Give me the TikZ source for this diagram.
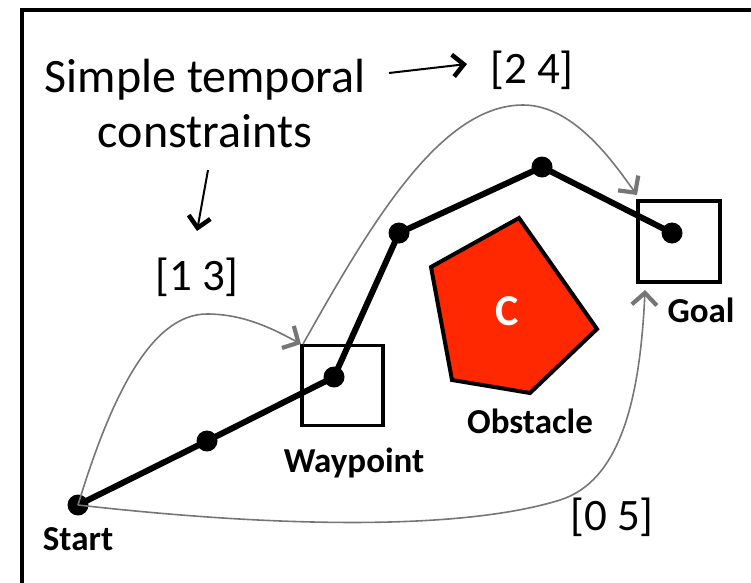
\documentclass[tikz,border=0pt]{standalone}
\usepackage{fontspec}
\setmainfont{Carlito}
\usetikzlibrary{arrows.meta}
\definecolor{obstred}{RGB}{255,40,0}
\definecolor{curvegray}{RGB}{118,118,118}
\tikzset{
  frameline/.style={line width=4pt},
  boxnode/.style={draw, line width=3.5pt, minimum width=81pt, minimum height=80pt, inner sep=0pt},
  dotnode/.style={circle, fill=black, minimum size=21pt, inner sep=0pt},
  trajline/.style={line width=6pt, line join=round},
  graycurve/.style={draw=curvegray, line width=1.6pt, -{Straight Barb[length=12pt,width=25pt,line width=4.2pt]}},
  blackarrow/.style={line width=2pt, -{Straight Barb[length=11pt,width=22pt,line width=4.5pt]}},
  reglabel/.style={font=\fontsize{48}{55}\selectfont, inner sep=0pt},
  brlabel/.style={font=\fontsize{45}{50}\selectfont, inner sep=0pt},
  boldlabel/.style={font=\fontsize{35}{40}\selectfont\bfseries, inner sep=0pt},
  obstacle/.style={fill=obstred, draw=black, line width=4pt, line join=miter}
}
\begin{document}
\begin{tikzpicture}[x=1pt, y=-1pt]
\useasboundingbox (0,0) rectangle (751,582);
% frame
\draw[frameline] (22,586) -- (22,10) -- (755,10);

% boxes
\node[boxnode] (wpbox) at (342.5,385.5) {};
\node[boxnode, minimum width=82pt, minimum height=81pt] (gbox) at (679,241.5) {};

% obstacle
\draw[obstacle] (431,267) -- (519,218) -- (597,329) -- (530,393) -- (452,380) -- cycle;
\node[font=\fontsize{44}{50}\selectfont\bfseries, text=white, inner sep=0pt] (clbl) at (507,311) {C};

% trajectory
\coordinate (p0) at (78,505);
\coordinate (p1) at (207,441);
\coordinate (p2) at (334,377);
\coordinate (p3) at (399,233);
\coordinate (p4) at (542,167);
\coordinate (p5) at (672,233);
\draw[trajline] (p0) -- (p1) -- (p2) -- (p3) -- (p4) -- (p5);
\node[dotnode] (d0) at (p0) {};
\node[dotnode] (d1) at (p1) {};
\node[dotnode] (d2) at (p2) {};
\node[dotnode] (d3) at (p3) {};
\node[dotnode] (d4) at (p4) {};
\node[dotnode] (d5) at (p5) {};

% temporal constraint curves
\coordinate (wtip) at (301,344);
\coordinate (wstart) at (303,344);
\coordinate (gtip1) at (637,195);
\coordinate (gtip2) at (645,290);
\draw[graycurve] (d0.center) .. controls (110,400) and (150,314) .. (207,314)
  .. controls (245,314) and (275,330) .. (wtip);
\draw[graycurve] (wstart) .. controls (370,225) and (440,105) .. (523,105)
  .. controls (575,105) and (615,165) .. (gtip1);
\draw[graycurve] (d0.center) .. controls (300,530) and (470,528) .. (560,500)
  .. controls (620,481) and (640,400) .. (gtip2);

% labels
\node[reglabel, anchor=base] (st1) at (205,92) {Simple temporal};
\node[reglabel, anchor=base] (st2) at (205,147) {constraints};
\node[brlabel] (l24) at (532,70) {[2 4]};
\node[brlabel] (l13) at (197,277) {[1 3]};
\node[brlabel] (l05) at (612,517) {[0 5]};

\coordinate (a1s) at (389,73);
\coordinate (a1e) at (467,64);
\coordinate (a2s) at (208,170);
\coordinate (a2e) at (197,231);
\draw[blackarrow] (a1s) -- (a1e);
\draw[blackarrow] (a2s) -- (a2e);

\node[boldlabel, anchor=base] (lstart) at (78,550) {Start};
\node[boldlabel, anchor=base] (lwp) at (354,472) {Waypoint};
\node[boldlabel, anchor=base] (lgoal) at (701,322) {Goal};
\node[boldlabel, anchor=base] (lobst) at (530,433) {Obstacle};
\end{tikzpicture}
\end{document}
